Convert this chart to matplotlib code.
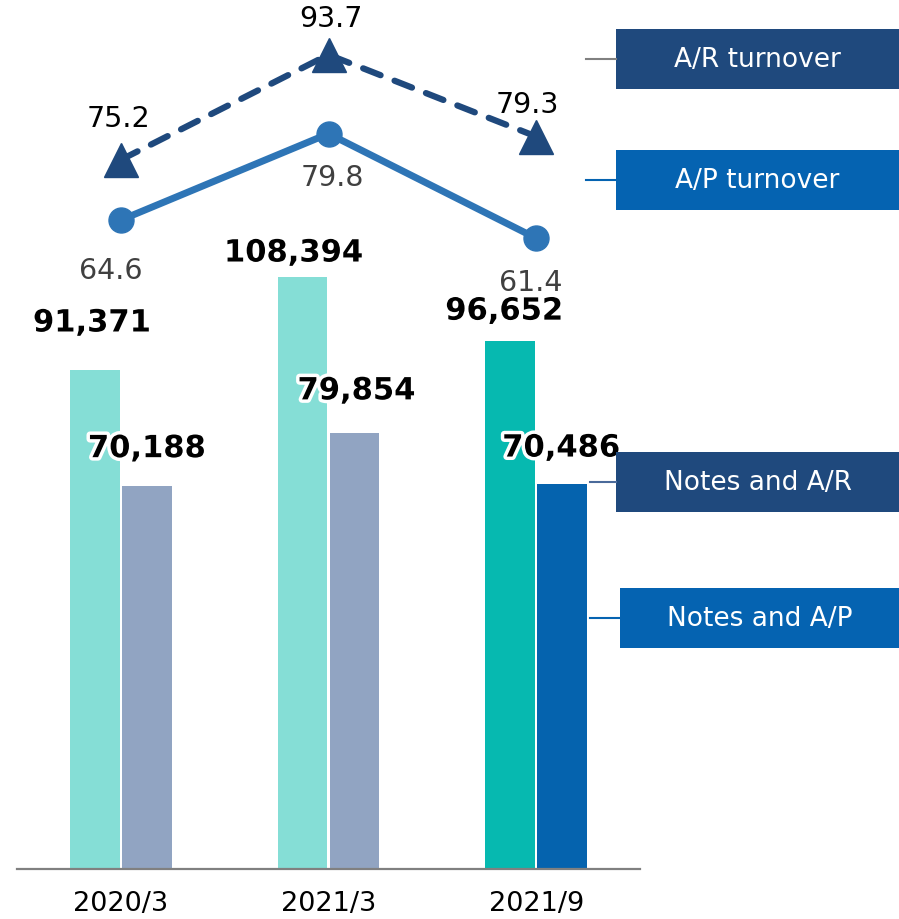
import matplotlib
matplotlib.use("Agg")
import matplotlib.pyplot as plt
import matplotlib.patheffects as pe
from matplotlib.patches import Rectangle
import numpy as np

plt.rcParams["font.family"] = ["DejaVu Sans"]

# ---- data ----
categories = ["2020/3", "2021/3", "2021/9"]
notes_ar = [91371, 108394, 96652]
notes_ap = [70188, 79854, 70486]
ar_turnover = [75.2, 93.7, 79.3]
ap_turnover = [64.6, 79.8, 61.4]
legend_labels = ["A/R turnover", "A/P turnover", "Notes and A/R", "Notes and A/P"]

# ---- styles ----
ar_colors = ["#85DED6", "#85DED6", "#06B9B0"]
ap_colors = ["#91A4C2", "#91A4C2", "#0563AE"]
navy = "#1F497D"
blue = "#0563B1"
line_ap_color = "#2E75B6"

# label offsets (pixels)
ar_bar_off = [(-3, 47), (-9, 24), (-6, 30)]
ap_bar_off = [(0, 37), (2, 42), (-1, 36)]
ar_line_off = [(-2, 42), (2, 37), (-9, 33)]
ap_line_off = [(-10, -50), (4, -43), (-5, -44)]

W, H = 899, 920
fig = plt.figure(figsize=(W / 100, H / 100), dpi=100)
left, right, base = 17, 640, 870
ax = fig.add_axes([left / W, (H - base) / H, (right - left) / W, base / H])
x = np.arange(len(categories))
w = 0.24
ax.bar(x - 0.125, notes_ar, w, color=ar_colors, zorder=2)
ax.bar(x + 0.125, notes_ap, w, color=ap_colors, zorder=2)
ax.set_xlim(-0.5, 2.5)
ax.set_ylim(0, 159300)
for s in ["top", "left", "right"]:
    ax.spines[s].set_visible(False)
ax.spines["bottom"].set_color("#808080")
ax.spines["bottom"].set_linewidth(1.6)
ax.set_yticks([])
ax.set_xticks(x)
ax.set_xticklabels(categories, fontsize=19.5, color="black")
ax.tick_params(axis="x", length=0, pad=15)

glow = [pe.withStroke(linewidth=5, foreground="white")]
for i in range(3):
    ax.annotate(f"{notes_ar[i]:,}", (x[i] - 0.125, notes_ar[i]), xytext=ar_bar_off[i],
                textcoords="offset pixels", ha="center", va="center",
                fontsize=22, fontweight="bold", color="black", path_effects=glow, zorder=5)
    ax.annotate(f"{notes_ap[i]:,}", (x[i] + 0.125, notes_ap[i]), xytext=ap_bar_off[i],
                textcoords="offset pixels", ha="center", va="center",
                fontsize=22, fontweight="bold", color="black", path_effects=glow, zorder=5)

ax2 = ax.twinx()
ax2.set_ylim(-49.6, 103.5)
ax2.axis("off")
ax2.plot(x, ap_turnover, color=line_ap_color, lw=5, marker="o", ms=18,
         solid_capstyle="round", zorder=3)
ax2.plot(x, ar_turnover, color=navy, lw=4.5, linestyle=(0, (3.0, 2.4)),
         dash_capstyle="round", marker="^", ms=24, zorder=4)
for i in range(3):
    ax2.annotate(f"{ar_turnover[i]}", (x[i], ar_turnover[i]), xytext=ar_line_off[i],
                 textcoords="offset pixels", ha="center", va="center",
                 fontsize=20.5, color="black")
    ax2.annotate(f"{ap_turnover[i]}", (x[i], ap_turnover[i]), xytext=ap_line_off[i],
                 textcoords="offset pixels", ha="center", va="center",
                 fontsize=20.5, color="#404040")

# ---- legend boxes ----
ov = fig.add_axes([0, 0, 1, 1], zorder=10)
ov.set_xlim(0, W)
ov.set_ylim(H, 0)
ov.axis("off")
ov.patch.set_alpha(0)
boxes = [
    (616, 30, 90, navy, 586, "#808080"),
    (616, 151, 211, blue, 586, blue),
    (616, 453, 513, navy, 590, "#4A6A9A"),
    (620, 589, 649, blue, 590, blue),
]
for (bx, y0, y1, col, lx, lcol), lab in zip(boxes, legend_labels):
    ov.add_patch(Rectangle((bx, y0), W - bx, y1 - y0, color=col, lw=0))
    ym = (y0 + y1) / 2
    ov.plot([lx, bx], [ym, ym], color=lcol, lw=1.5)
    ov.text((bx + W) / 2, ym, lab, color="white", fontsize=19, ha="center", va="center")

fig.savefig("out.png", dpi=100)
